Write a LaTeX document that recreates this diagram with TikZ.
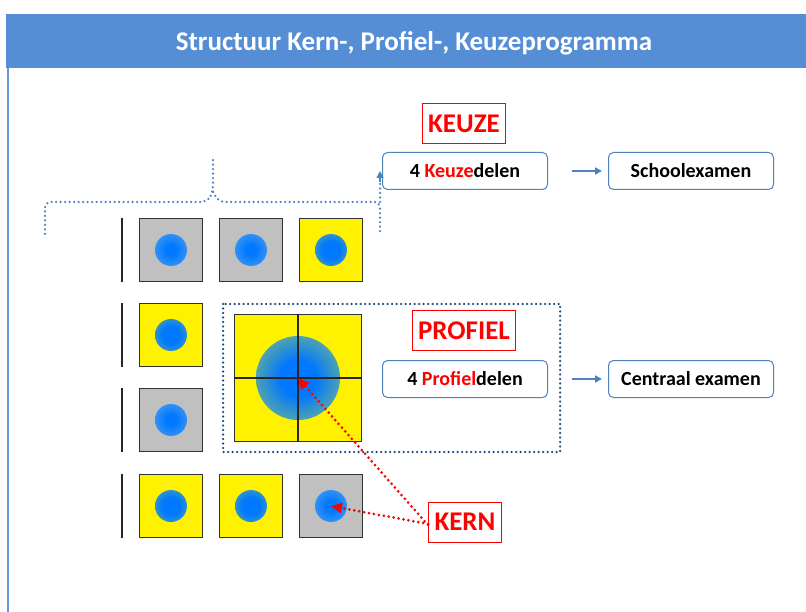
\documentclass[tikz,border=0pt]{standalone}
\usepackage{fontspec}
\setmainfont{Carlito}
\usepackage{tikz}
\usetikzlibrary{arrows.meta}
\definecolor{header}{RGB}{85,142,213}
\definecolor{boxline}{RGB}{79,129,189}
\definecolor{navy}{RGB}{31,73,125}
\definecolor{tilegray}{RGB}{192,192,192}
\definecolor{ball}{RGB}{0,120,255}
\definecolor{ballgray}{RGB}{110,175,235}
\definecolor{ballyellow}{RGB}{130,190,125}
\pgfdeclareradialshading{ballongray}{\pgfpoint{0bp}{0bp}}{color(0bp)=(ball);color(4bp)=(ball);color(23bp)=(ballgray);color(25bp)=(ballgray);color(50bp)=(ballgray)}
\pgfdeclareradialshading{ballonyellow}{\pgfpoint{0bp}{0bp}}{color(0bp)=(ball);color(7bp)=(ball);color(23bp)=(ballyellow);color(25bp)=(ballyellow);color(50bp)=(ballyellow)}

\begin{document}
\begin{tikzpicture}[x=1pt, y=-1pt,
  tile/.style = {draw=black!80, line width=1.5, minimum size=63, inner sep=0},
  gray tile/.style = {tile, fill=tilegray, path picture={\shade[shading=ballongray] (path picture bounding box.center) circle (16);}},
  yellow tile/.style = {tile, fill=yellow, path picture={\shade[shading=ballonyellow] (path picture bounding box.center) circle (16);}},
  deel/.style = {draw=boxline, line width=1, rounded corners=5pt, fill=white, minimum width=165, minimum height=37, font=\bfseries\fontsize{20}{22}\selectfont},
  soort/.style = {draw=red, line width=1, fill=white, text=red, inner xsep=6pt, minimum height=40, font=\bfseries\fontsize{27}{29}\selectfont},
  flow/.style = {-{Triangle[length=7pt, width=7pt]}, boxline, line width=2},
  pointer/.style = {-{Triangle[length=11pt, width=10pt]}, red, line width=3, dash pattern=on 0pt off 5pt, line cap=round},
  dots/.style = {line width=2.5, dash pattern=on 0pt off 4.5pt, line cap=round}]
\useasboundingbox (0,0) rectangle (806,612);
% header
\fill[header] (6,14) rectangle (806,68);
\node[text=white, font=\bfseries\fontsize{27}{29}\selectfont] (title) at (414,43) {Structuur Kern-, Profiel-, Keuzeprogramma};
\draw[header!90, line width=1.5] (8,68) -- (8,612);
% tiles
\node[gray tile] (a1) at (171,250) {};
\node[gray tile] (a2) at (251,250) {};
\node[yellow tile] (a3) at (331,250) {};
\node[yellow tile] (b1) at (171,335) {};
\node[gray tile] (c1) at (171,420) {};
\node[yellow tile] (d1) at (171,506) {};
\node[yellow tile] (d2) at (251,506) {};
\node[gray tile] (d3) at (331,506) {};
\foreach \y in {250,335,420,506}
  \draw[black!85, line width=1.5] (122,\y-32) -- (122,\y+32);
\node[tile, fill=yellow, minimum size=127, path picture={\shade[shading=ballonyellow] (path picture bounding box.center) circle (42);}] (big) at (298,378) {};
\draw[black!85, line width=1.5] (big.north) -- (big.south) (big.west) -- (big.east);
\draw[navy, dots] (223,304) rectangle (560,452);
% brace
\draw[boxline, dots, rounded corners=6pt] (45,234) -- (45,202) -- (207,202) -- (213,192) -- (213,158);
\draw[boxline, dots, rounded corners=6pt] (213,192) -- (219,202) -- (380,202) -- (380,234);
\coordinate (brace) at (380,202);
% boxes
\node[soort] (keuze) at (464,124) {KEUZE};
\node[deel] (kd) at (465,171) {4 \textcolor{red}{Keuze}delen};
\node[deel] (se) at (691,171) {Schoolexamen};
\node[soort] (profiel) at (464,331) {PROFIEL};
\node[deel] (pd) at (465,379) {4 \textcolor{red}{Profiel}delen};
\node[deel] (ce) at (691,379) {Centraal examen};
\node[soort] (kern) at (465,522) {KERN};
% connectors
\draw[boxline, dots] (brace) -- (brace |- 0,180);
\draw[-{Triangle[length=7pt, width=7pt]}, boxline, line width=1.5] (brace |- 0,182) -- (brace |- kd.west);
\draw[flow] ([xshift=24]kd.east) -- ([xshift=-6]se.west);
\draw[flow] ([xshift=24]pd.east) -- ([xshift=-6]ce.west);
\draw[pointer] ([yshift=-3]kern.west) -- (big.center);
\draw[pointer] ([yshift=-2]kern.west) -- (d3.center);
\end{tikzpicture}
\end{document}
